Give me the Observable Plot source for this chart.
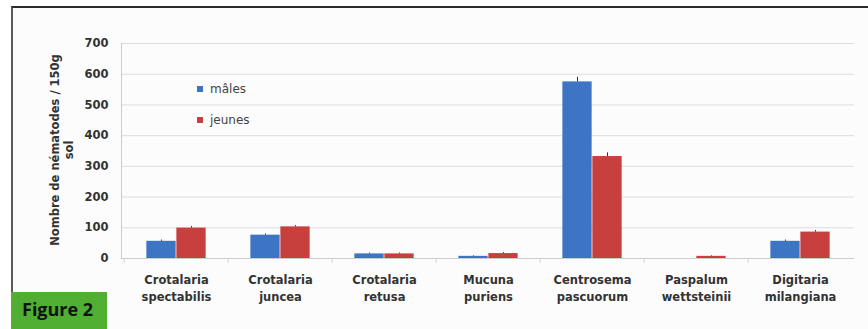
<!DOCTYPE html>
<html>
<head>
<meta charset="utf-8">
<script src="https://cdn.jsdelivr.net/npm/d3@7"></script>
<script src="https://cdn.jsdelivr.net/npm/@observablehq/plot@0.6"></script>
<style>
  html, body { margin: 0; padding: 0; background: #ffffff; }
  #wrap { position: relative; width: 868px; height: 329px; overflow: hidden; background: #fff; }
  #panel { position: absolute; left: 11px; top: 6px; width: 870px; height: 340px;
           border-top: 2px solid #2a2a2a; border-left: 2px solid #5a5a5a; background: #fcfcfc; box-sizing: border-box; }
  #chart { position: absolute; left: 0; top: 0; }
  #ytitle { position: absolute; left: 62px; top: 150px; width: 260px; transform: translate(-50%, -50%) rotate(-90deg);
            text-align: center; font: bold 11.5px "DejaVu Sans", sans-serif; color: #333; line-height: 14px; }
  #legend { position: absolute; left: 197px; top: 73px; font: 12px "DejaVu Sans", sans-serif; color: #444; }
  #legend div { height: 31px; display: flex; align-items: center; }
  #legend span.sw { display: inline-block; width: 6px; height: 6px; margin-right: 7px; }
  #fig { position: absolute; left: 11px; top: 292px; width: 96px; height: 40px; background: #50ae32;
         font: bold 18px "Open Sans", sans-serif; color: #111; box-sizing: border-box; padding: 5px 0 0 11px; }
</style>
</head>
<body>
<div id="wrap">
  <div id="panel"></div>
  <div id="chart"></div>
  <div id="ytitle">Nombre de nématodes / 150g<br>sol</div>
  <div id="legend"></div>
  <div id="fig">Figure 2</div>
</div>
<script>
const categories = ["Crotalaria spectabilis", "Crotalaria juncea", "Crotalaria retusa", "Mucuna puriens",
                    "Centrosema pascuorum", "Paspalum wettsteinii", "Digitaria milangiana"];
const seriesNames = ["mâles", "jeunes"];
const males  = [56, 76, 15, 7, 575, 0, 56];
const jeunes = [99, 103, 15, 16, 332, 7, 86];
const errMales  = [4, 4, 3, 2, 15, 0, 4];
const errJeunes = [5, 4, 3, 3, 12, 2, 5];
const yTicks = [0, 100, 200, 300, 400, 500, 600, 700];
const colors = ["#3d74c4", "#c8403e"];

const dataM = categories.map((c, i) => ({cat: c, v: males[i], e: errMales[i]}));
const dataJ = categories.map((c, i) => ({cat: c, v: jeunes[i], e: errJeunes[i]}));

const W = 868, ML = 121, MR = 14;
const band = (W - ML - MR) / categories.length;
const barW = 30;
const outer = band / 2 - barW;

const chart = Plot.plot({
  width: W, height: 329,
  marginLeft: ML, marginRight: MR, marginTop: 43, marginBottom: 71,
  style: {background: "transparent", fontFamily: "DejaVu Sans, sans-serif"},
  x: {domain: categories, padding: 0, label: null},
  y: {domain: [0, 700], label: null},
  marks: [
    Plot.gridY(yTicks, {stroke: "#dcdcdc", strokeOpacity: 1}),
    Plot.frame({anchor: "left", stroke: "#cccccc"}),
    Plot.axisX({tickSize: 5, tickFormat: () => "", dx: -band / 2, stroke: "#d4d4d4"}),
    Plot.barY(dataM, {x: "cat", y: "v", fill: colors[0], insetLeft: outer, insetRight: band / 2}),
    Plot.barY(dataJ, {x: "cat", y: "v", fill: colors[1], insetLeft: band / 2, insetRight: outer}),
    Plot.ruleX(dataM.filter(d => d.v > 0), {x: "cat", y1: "v", y2: d => d.v + d.e, dx: -barW / 2, stroke: "#333", strokeWidth: 1}),
    Plot.ruleX(dataJ.filter(d => d.v > 0), {x: "cat", y1: "v", y2: d => d.v + d.e, dx: barW / 2, stroke: "#333", strokeWidth: 1}),
    Plot.ruleY([0], {stroke: "#cccccc"}),
    Plot.axisY(yTicks, {tickSize: 0, tickPadding: 13, fontSize: 11.5, fontWeight: "bold", fill: "#333"}),
    Plot.axisX({tickSize: 0, tickPadding: 14, fontSize: 11.5, fontWeight: "bold", fill: "#333",
                lineHeight: 1.45, tickFormat: d => d.replace(" ", "\n")})
  ]
});
document.getElementById("chart").appendChild(chart);

const legend = document.getElementById("legend");
seriesNames.forEach((s, i) => {
  const row = document.createElement("div");
  row.innerHTML = `<span class="sw" style="background:${colors[i]}"></span>${s}`;
  legend.appendChild(row);
});
</script>
</body>
</html>
